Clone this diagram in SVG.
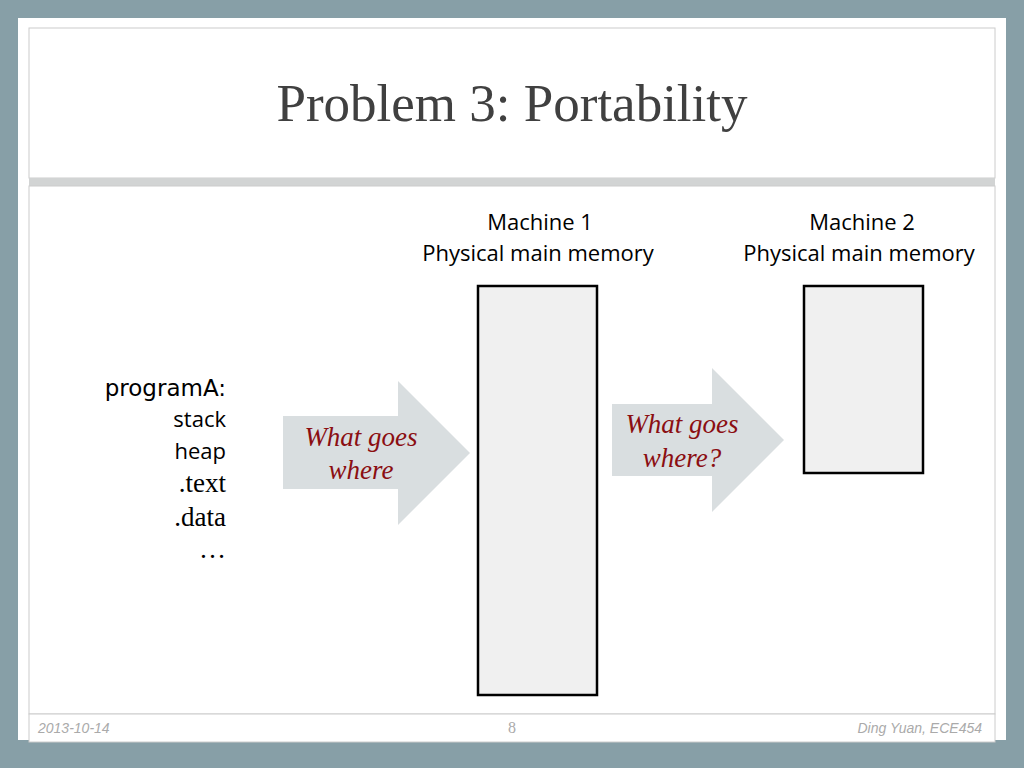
<svg xmlns="http://www.w3.org/2000/svg" width="1024" height="768" viewBox="0 0 1024 768">
<style>
.s{font-family:"Open Sans","Liberation Sans",sans-serif;font-size:22px;fill:#000}
.r{font-family:"Liberation Serif",serif;font-size:27px;fill:#000}
.w{font-family:"Liberation Serif",serif;font-style:italic;font-size:27px;fill:#8b0e12}
.f{font-family:"Liberation Sans",sans-serif;font-style:italic;font-size:14px;fill:#aaa}
.mem{fill:#f0f0f0;stroke:#000;stroke-width:2.5}
.arr{fill:#d9dee0}
</style>
<rect width="1024" height="768" fill="#879fa7"/>
<rect x="18" y="18" width="988" height="722" fill="#fff"/>
<rect x="29" y="28" width="966" height="150" fill="#fff" stroke="#ccc"/>
<rect x="29" y="178" width="966" height="8" fill="#d2d4d4"/>
<rect x="29" y="186" width="966" height="528" fill="#fff" stroke="#ccc"/>
<rect x="29" y="714" width="966" height="28" fill="#fff" stroke="#ccc"/>
<text x="512" y="121" text-anchor="middle" font-family="Liberation Serif,serif" font-size="53" fill="#404040">Problem 3: Portability</text>
<g id="labels">
<text class="s" x="540" y="230" text-anchor="middle">Machine 1</text>
<text class="s" x="538" y="261" text-anchor="middle">Physical main memory</text>
<text class="s" x="862" y="230" text-anchor="middle">Machine 2</text>
<text class="s" x="859" y="261" text-anchor="middle">Physical main memory</text>
</g>
<g id="programA">
<text x="226" y="396" text-anchor="end" font-family="DejaVu Sans,sans-serif" font-size="23" fill="#000">programA:</text>
<text class="s" x="226" y="427" text-anchor="end">stack</text>
<text class="s" x="226" y="459" text-anchor="end">heap</text>
<text class="r" x="226" y="492" text-anchor="end">.text</text>
<text class="r" x="226" y="526" text-anchor="end">.data</text>
<text class="r" x="226" y="558" text-anchor="end">…</text>
</g>
<g id="mem1"><rect class="mem" x="478" y="286" width="119" height="409"/></g>
<g id="mem2"><rect class="mem" x="804" y="286" width="119" height="187"/></g>
<g id="connectors">
<polygon class="arr" points="283,416 398,416 398,381 470,453 398,525 398,489 283,489"/>
<polygon class="arr" points="612,404 712,404 712,368 784,440 712,512 712,476 612,476"/>
</g>
<text class="w" x="361" y="446" text-anchor="middle">What goes</text>
<text class="w" x="361" y="479" text-anchor="middle">where</text>
<text class="w" x="682" y="433" text-anchor="middle">What goes</text>
<text class="w" x="682" y="467" text-anchor="middle">where?</text>
<text class="f" x="38" y="733">2013-10-14</text>
<text x="512" y="733" text-anchor="middle" font-family="Liberation Serif,serif" font-size="16" fill="#aaa">8</text>
<text class="f" x="982" y="733" text-anchor="end">Ding Yuan, ECE454</text>
</svg>
